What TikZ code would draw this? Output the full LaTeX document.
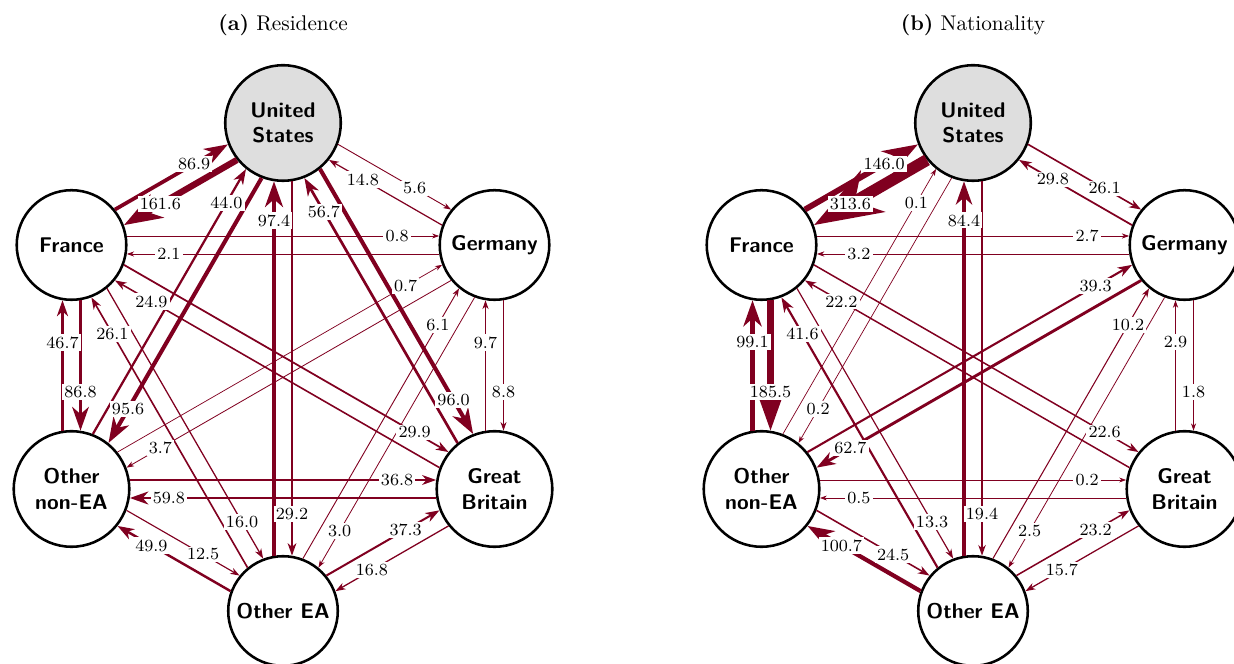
\documentclass[tikz,border=0pt]{standalone}
\usetikzlibrary{arrows.meta,calc}
\definecolor{edgecol}{RGB}{128,0,32}
\definecolor{usfill}{RGB}{222,222,222}
\newcommand\dd{4.23pt}
\newcommand\edgeline[3]{%
  \pgfmathsetmacro\elw{0.33+0.0165*#3}%
  \draw[edge, line width=\elw pt]
    let \p1=($(#1.east)-(#1.center)$), \p2=($(#2.east)-(#2.center)$),
        \p3=($(#1.center)!\dd!90:(#2.center)$), \p4=($(#2.center)!\dd!-90:(#1.center)$)
    in ($(\p3)!{sqrt(\x1*\x1-\dd*\dd)}!(\p4)$) -- ($(\p4)!{sqrt(\x2*\x2-\dd*\dd)}!(\p3)$);%
}
\newcommand\edgelabel[3]{%
  \path let \p3=($(#1.center)!\dd!90:(#2.center)$), \p4=($(#2.center)!\dd!-90:(#1.center)$)
    in node[lab] at ($(\p4)!45.8pt!(\p3)$) {#3};%
}
\newcommand\listA{%
  \E{FRa}{USa}{86.9}\E{USa}{FRa}{161.6}%
  \E{USa}{DEa}{5.6}\E{DEa}{USa}{14.8}%
  \E{FRa}{DEa}{0.8}\E{DEa}{FRa}{2.1}%
  \E{FRa}{ONa}{86.8}\E{ONa}{FRa}{46.7}%
  \E{USa}{ONa}{95.6}\E{ONa}{USa}{44.0}%
  \E{USa}{OEa}{29.2}\E{OEa}{USa}{97.4}%
  \E{USa}{GBa}{96.0}\E{GBa}{USa}{56.7}%
  \E{FRa}{GBa}{29.9}\E{GBa}{FRa}{24.9}%
  \E{FRa}{OEa}{16.0}\E{OEa}{FRa}{26.1}%
  \E{DEa}{ONa}{3.7}\E{ONa}{DEa}{0.7}%
  \E{DEa}{GBa}{8.8}\E{GBa}{DEa}{9.7}%
  \E{DEa}{OEa}{3.0}\E{OEa}{DEa}{6.1}%
  \E{ONa}{GBa}{36.8}\E{GBa}{ONa}{59.8}%
  \E{ONa}{OEa}{12.5}\E{OEa}{ONa}{49.9}%
  \E{OEa}{GBa}{37.3}\E{GBa}{OEa}{16.8}%
}
\newcommand\listB{%
  \E{FRb}{USb}{146.0}\E{USb}{FRb}{313.6}%
  \E{USb}{DEb}{26.1}\E{DEb}{USb}{29.8}%
  \E{FRb}{DEb}{2.7}\E{DEb}{FRb}{3.2}%
  \E{FRb}{ONb}{185.5}\E{ONb}{FRb}{99.1}%
  \E{USb}{ONb}{0.2}\E{ONb}{USb}{0.1}%
  \E{USb}{OEb}{19.4}\E{OEb}{USb}{84.4}%
  \E{FRb}{GBb}{22.6}\E{GBb}{FRb}{22.2}%
  \E{FRb}{OEb}{13.3}\E{OEb}{FRb}{41.6}%
  \E{DEb}{ONb}{62.7}\E{ONb}{DEb}{39.3}%
  \E{DEb}{GBb}{1.8}\E{GBb}{DEb}{2.9}%
  \E{DEb}{OEb}{2.5}\E{OEb}{DEb}{10.2}%
  \E{ONb}{GBb}{0.2}\E{GBb}{ONb}{0.5}%
  \E{ONb}{OEb}{24.5}\E{OEb}{ONb}{100.7}%
  \E{OEb}{GBb}{23.2}\E{GBb}{OEb}{15.7}%
}
\begin{document}
\begin{tikzpicture}[x=0.47pt,y=-0.47pt,
  country/.style={circle, draw=black, line width=1.2pt, inner sep=0pt, fill=white,
    font=\sffamily\bfseries, align=center, text=black},
  one/.style={country, minimum size=51.5pt},
  two/.style={country, minimum size=54.3pt},
  lab/.style={fill=white, inner sep=1pt, font=\footnotesize, text=black},
  edge/.style={draw=edgecol, -{Stealth[length=1.4pt 5.5, width'=0pt 0.7, inset'=0pt 0.3]}},
  title/.style={font=\normalsize, inner sep=0pt}]
\useasboundingbox (0,0) rectangle (1234,664);
% titles
\node[title] (ta) at (283,25) {\textbf{(a)} Residence};
\node[title] (tb) at (973,25) {\textbf{(b)} Nationality};
% panel (a)
\node[two, fill=usfill] (USa) at (283,123) {United\\States};
\node[one] (FRa) at (71.5,245) {France};
\node[one] (DEa) at (494.5,245) {Germany};
\node[two] (ONa) at (71.5,489) {Other\\non-EA};
\node[two] (GBa) at (494.5,489) {Great\\Britain};
\node[one] (OEa) at (283,611) {Other EA};
% panel (b)
\node[two, fill=usfill] (USb) at (973,123) {United\\States};
\node[one] (FRb) at (761.5,245) {France};
\node[one] (DEb) at (1184.5,245) {Germany};
\node[two] (ONb) at (761.5,489) {Other\\non-EA};
\node[two] (GBb) at (1184.5,489) {Great\\Britain};
\node[one] (OEb) at (973,611) {Other EA};
% edges
\let\E\edgeline
\listA
\listB
% labels
\let\E\edgelabel
\listA
\listB
\end{tikzpicture}
\end{document}
